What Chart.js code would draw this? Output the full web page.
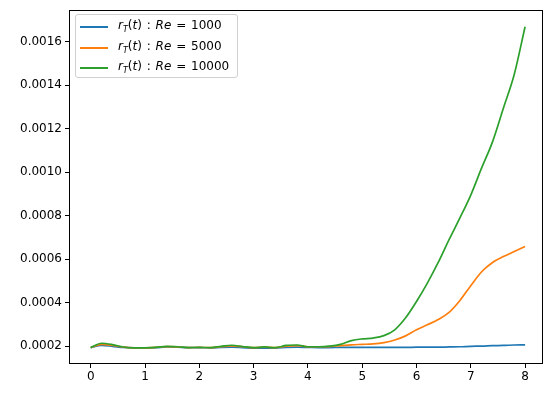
<!DOCTYPE html>
<html>
<head>
<meta charset="utf-8">
<script src="https://cdn.jsdelivr.net/npm/chart.js@4/dist/chart.umd.min.js"></script>
<style>
  html, body { margin: 0; padding: 0; background: #fff; }
  .wrap { position: relative; width: 544px; height: 393px; }
  .legend {
    position: absolute; left: 75px; top: 14px; width: 161px; height: 62px;
    border: 1px solid #d0d0d0; border-radius: 3px; background: rgba(255,255,255,0.8);
    font-family: "DejaVu Sans", sans-serif; font-size: 12px; color: #000;
  }
  .legend-item { position: absolute; left: 0; height: 16px; white-space: nowrap; }
  .legend-line { position: absolute; left: 4px; width: 28px; height: 2px; top: 9px; }
  .legend-text { position: absolute; left: 42px; top: 1px; word-spacing: 1px; }
  .legend-text i { font-style: italic; }
  .legend-text sub { font-size: 8px; vertical-align: -3px; font-style: italic; }
</style>
</head>
<body>
<div class="wrap">
  <canvas id="chart" width="544" height="393"></canvas>
  <div class="legend" id="legend"></div>
</div>
<script>
const timeValues = [0, 0.2, 0.4, 0.6, 0.8, 1.0, 1.2, 1.4, 1.6, 1.8, 2.0, 2.2, 2.4, 2.6, 2.8, 3.0, 3.2, 3.4, 3.6, 3.8, 4.0,
  4.2, 4.4, 4.6, 4.8, 5.0, 5.2, 5.4, 5.6, 5.8, 6.0, 6.2, 6.4, 6.6, 6.8, 7.0, 7.2, 7.4, 7.6, 7.8, 8.0];

const re1000 = [0.000193, 0.000203, 0.000199, 0.000194, 0.000192, 0.000192, 0.000193, 0.000196, 0.000195, 0.000193, 0.000193,
  0.000192, 0.000194, 0.000195, 0.000193, 0.000191, 0.000191, 0.000191, 0.000194, 0.000195, 0.000194,
  0.000193, 0.000193, 0.000194, 0.000194, 0.000194, 0.000194, 0.000194, 0.000194, 0.000194, 0.000195,
  0.000195, 0.000195, 0.000196, 0.000197, 0.000199, 0.000200, 0.000202, 0.000203, 0.000205, 0.000206];

const re5000 = [0.000193, 0.000208, 0.000203, 0.000195, 0.000192, 0.000192, 0.000194, 0.000198, 0.000196, 0.000193, 0.000194,
  0.000193, 0.000197, 0.000201, 0.000197, 0.000193, 0.000195, 0.000193, 0.000200, 0.000202, 0.000197,
  0.000197, 0.000198, 0.000202, 0.000206, 0.000208, 0.000210, 0.000216, 0.000228, 0.000247, 0.000275,
  0.000298, 0.000322, 0.000355, 0.000410, 0.000478, 0.000542, 0.000585, 0.000612, 0.000635, 0.000658];

const re10000 = [0.000193, 0.000213, 0.000207, 0.000196, 0.000192, 0.000192, 0.000194, 0.000199, 0.000197, 0.000193, 0.000194,
  0.000193, 0.000199, 0.000204, 0.000198, 0.000193, 0.000196, 0.000193, 0.000203, 0.000205, 0.000197,
  0.000197, 0.000200, 0.000208, 0.000225, 0.000233, 0.000237, 0.000248, 0.000275, 0.000330, 0.000405,
  0.000490, 0.000585, 0.000690, 0.000790, 0.000895, 0.001020, 0.001140, 0.001295, 0.001450, 0.001670];

const reynolds = [1000, 5000, 10000];
const colors = ["#1f77b4", "#ff7f0e", "#2ca02c"];
const xTicks = [0, 1, 2, 3, 4, 5, 6, 7, 8];
const yTicks = [0.0002, 0.0004, 0.0006, 0.0008, 0.0010, 0.0012, 0.0014, 0.0016];

function toPoints(values) {
  return values.map(function(v, i) {
    return { x: timeValues[i], y: v };
  });
}

const seriesValues = [re1000, re5000, re10000];
const datasets = seriesValues.map(function(values, i) {
  return {
    label: "r_T(t) : Re = " + reynolds[i],
    re: reynolds[i],
    data: toPoints(values),
    borderColor: colors[i],
    backgroundColor: colors[i],
    borderWidth: 1.7,
    pointRadius: 0,
    tension: 0.4,
    cubicInterpolationMode: "monotone",
    fill: false,
    order: seriesValues.length - i
  };
});

const frameBox = {
  id: "frameBox",
  afterDraw(chart) {
    const a = chart.chartArea;
    const ctx = chart.ctx;
    ctx.save();
    ctx.strokeStyle = "#000";
    ctx.lineWidth = 1;
    ctx.strokeRect(Math.round(a.left) + 0.5, Math.round(a.top) + 0.5,
      Math.round(a.right - a.left) - 1, Math.round(a.bottom - a.top) - 1);
    ctx.restore();
  }
};

const font = { family: "'DejaVu Sans', sans-serif", size: 12 };

const chart = new Chart(document.getElementById("chart"), {
  type: "line",
  data: { datasets: datasets },
  options: {
    responsive: false,
    animation: false,
    devicePixelRatio: 1,
    layout: { padding: { top: 8, right: 1, left: 0, bottom: 0 } },
    plugins: { legend: { display: false }, tooltip: { enabled: false } },
    scales: {
      x: {
        type: "linear",
        min: -0.4,
        max: 8.33,
        afterBuildTicks(scale) {
          scale.ticks = xTicks.map(v => ({ value: v }));
        },
        afterFit(scale) { scale.height = 29; },
        ticks: { color: "#000", font: font, padding: 2, callback: v => String(v) },
        grid: { drawOnChartArea: false, drawTicks: true, tickLength: 4, color: "#000" },
        border: { display: false }
      },
      y: {
        type: "linear",
        min: 0.0001176,
        max: 0.001746,
        afterBuildTicks(scale) {
          scale.ticks = yTicks.map(v => ({ value: v }));
        },
        afterFit(scale) { scale.width = 69; },
        ticks: { color: "#000", font: font, padding: 3, callback: v => v.toFixed(4) },
        grid: { drawOnChartArea: false, drawTicks: true, tickLength: 4, color: "#000" },
        border: { display: false }
      }
    }
  },
  plugins: [frameBox]
});

// legend with math-style text, built from the datasets
const legendEl = document.getElementById("legend");
chart.data.datasets.forEach(function(ds, i) {
  const item = document.createElement("div");
  item.className = "legend-item";
  item.style.top = (2 + i * 20.5) + "px";
  const line = document.createElement("div");
  line.className = "legend-line";
  line.style.background = ds.borderColor;
  const text = document.createElement("span");
  text.className = "legend-text";
  text.innerHTML = "<i>r</i><sub>T</sub>(<i>t</i>) : <i>Re</i> = " + ds.re;
  item.appendChild(line);
  item.appendChild(text);
  legendEl.appendChild(item);
});
</script>
</body>
</html>
